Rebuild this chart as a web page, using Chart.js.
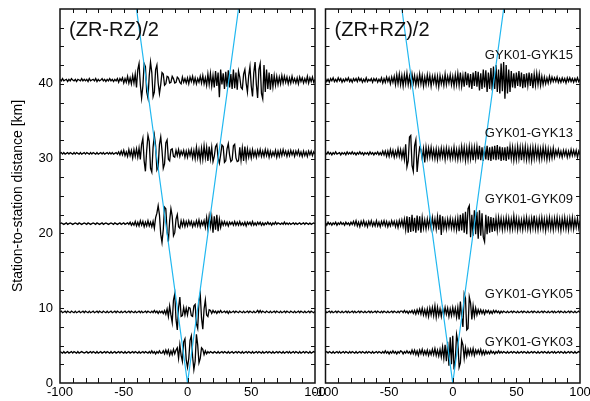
<!DOCTYPE html>
<html>
<head>
<meta charset="utf-8">
<script src="https://cdn.jsdelivr.net/npm/chart.js@4.4.0/dist/chart.umd.min.js"></script>
<style>
  html, body { margin: 0; padding: 0; background: #fff; }
  #wrap { position: relative; width: 590px; height: 401px; }
  #wrap canvas { position: absolute; left: 0; top: 0; }
</style>
</head>
<body>
<div id="wrap">
  <canvas id="leftPanel" width="590" height="401"></canvas>
  <canvas id="rightPanel" width="590" height="401"></canvas>
</div>
<script>
// station pairs, top to bottom, and their separation in km
const stations = ['GYK01-GYK15', 'GYK01-GYK13', 'GYK01-GYK09', 'GYK01-GYK05', 'GYK01-GYK03'];
const distances = [40.5, 30.7, 21.3, 9.5, 4.1];

// lag time axis: -100 s .. 100 s, one sample per second
const lagStart = -100;
const lagStep = 1;
// amplitudes below are in tenths of a km on the distance axis
const ampUnitKm = 0.1;

// move-out lines (blue)
const moveoutLag = [-40, 0, 40];
const moveoutDist = [50, 0, 50];

// ---- (ZR-RZ)/2 ----
const zrMinus15 = [
  1,-1,2,-1,0,1,-2,1,-1,2,0,-1,1,-2,1,0,-1,2,-1,1,
  -1,1,-2,2,-1,0,1,-1,2,-2,1,-1,0,2,-1,1,-2,1,-1,2,
  -1,1,-2,1,-1,2,-3,2,-1,3,-4,2,-3,5,-4,3,-5,6,-4,8,
  -10,14,22,-6,-24,-8,22,18,-16,-24,6,24,10,-22,-16,14,20,-4,-18,-6,
  10,8,-7,-5,5,4,-4,-3,5,2,-4,-3,4,2,-3,-5,4,-3,2,-4,
  3,-5,4,-2,5,-4,3,-5,2,-3,5,-4,6,-5,3,-7,8,-6,9,-8,
  6,-10,12,-8,10,-23,14,-6,9,-12,11,-9,13,-10,8,-12,14,-11,10,-13,
  12,4,-10,-12,8,14,-4,-16,6,18,-8,-22,10,24,-6,-24,14,22,-18,-25,
  20,-16,14,-12,10,-13,8,-9,6,-7,5,-6,4,-5,6,-4,5,-3,4,-5,
  3,-4,5,-3,2,-4,3,-5,4,-2,3,-4,2,-3,5,-4,3,-2,4,-3,1
];
const zrMinus13 = [
  0,1,-1,1,-1,0,1,-1,1,0,-1,1,-1,1,0,-1,1,-1,0,1,
  -1,1,0,-1,1,-1,1,0,-1,1,-1,0,1,-1,1,-1,0,1,-1,1,
  -1,1,-1,0,1,-1,2,-2,3,-2,4,-3,2,-4,5,-3,4,-6,5,-4,
  6,-5,7,-8,12,20,-10,-24,4,24,16,-20,-25,8,24,10,-22,-18,12,22,
  4,-20,-14,14,18,-8,-10,5,6,-4,-5,4,-3,5,-4,3,-2,4,-5,3,
  -5,4,-3,5,-6,4,-7,8,-6,5,-9,7,-8,10,-6,8,-10,9,-7,8,
  -11,-4,9,12,-6,-13,-2,11,9,-12,-10,6,13,-2,-11,-9,10,12,-6,-11,
  -10,8,-9,7,-10,9,-8,6,-5,4,-6,5,-4,3,-5,4,-3,5,-4,3,
  -4,5,-3,4,-5,3,-4,2,-3,4,-5,3,-4,4,-3,5,-2,3,-4,3,
  -3,4,-2,3,-4,3,-2,4,-3,2,-4,3,-3,2,-4,3,-2,3,-3,2,-1
];
const zrMinus09 = [
  0,1,0,-1,0,1,-1,0,1,0,-1,0,1,0,-1,1,0,-1,0,1,
  0,-1,1,0,-1,0,1,0,-1,1,0,-1,0,1,-1,0,1,0,-1,0,
  1,0,-1,1,0,-1,0,1,-1,0,1,-1,0,1,-1,2,-2,1,-2,3,
  -3,2,-3,4,-2,3,-4,2,-3,4,-3,2,-4,3,-6,8,14,24,12,-14,
  -25,-8,22,20,-10,-24,4,20,10,-16,-12,6,12,-4,-6,4,-3,4,-4,3,
  -3,4,-2,3,-4,2,-3,4,-3,5,-4,3,-2,4,-5,8,-6,10,-4,9,
  -12,10,-8,12,-10,6,-5,3,-2,3,-2,2,-3,2,-1,2,-2,3,-2,2,
  -2,3,-2,1,-2,2,-3,2,-1,2,-2,3,-2,1,-2,2,-1,2,-2,1,
  -2,1,-1,2,-1,1,-2,1,-1,2,-1,1,0,-1,1,-1,2,-1,1,-1,
  1,-1,0,1,-1,1,-1,0,1,-1,0,1,-1,1,0,-1,1,-1,0,1,0
];
const zrMinus05 = [
  0,1,-1,0,1,-1,1,0,-1,1,0,-1,1,-1,0,1,-1,0,1,-1,
  1,0,-1,1,-1,0,1,-1,0,1,-1,1,0,-1,1,0,-1,1,-1,0,
  1,-1,0,1,-1,1,0,-1,1,-1,0,1,-1,0,1,-1,1,0,-1,1,
  -1,0,1,-1,1,-1,0,1,-1,1,0,-1,1,-1,2,-1,1,-2,1,-1,
  1,-2,2,-3,4,-6,8,-4,-14,16,24,-10,-24,6,20,-6,-5,6,-4,5,
  -4,6,5,-5,-6,8,10,-16,-22,14,24,-8,-23,4,16,-4,-6,3,2,-2,
  2,-1,1,-2,1,-1,2,-1,0,1,-1,1,-2,1,-1,0,1,-1,1,0,
  -1,1,0,-1,1,-1,0,1,-1,1,0,-1,1,-1,0,2,-1,2,-1,1,
  0,-1,1,0,-1,1,-1,0,1,-1,1,0,-1,1,-1,0,1,-1,1,0,
  -1,1,0,-1,1,-1,0,1,-1,1,0,-1,1,-1,0,1,-1,1,0,-1,1
];
const zrMinus03 = [
  1,0,-1,1,-1,0,1,-1,0,1,-1,1,0,-1,1,-1,0,1,0,-1,
  0,1,-1,0,1,-1,1,0,-1,1,-1,0,1,-1,0,1,-1,1,0,-1,
  1,-1,0,1,-1,0,1,-1,1,0,-1,1,-1,0,1,-1,0,1,-1,1,
  0,-1,1,-1,0,1,-1,1,0,-1,1,-1,2,-1,1,-2,1,-1,2,-1,
  -1,2,-2,3,-2,3,-4,2,-3,4,-2,3,6,-8,10,-4,-12,14,18,-10,
  -20,-8,16,22,-6,-23,-12,24,10,-14,-8,6,4,-3,2,-2,1,-1,1,0,
  -1,1,0,-1,1,-1,0,1,-1,1,0,-1,1,-1,0,1,-1,0,1,-1,
  1,0,-1,1,-1,0,1,-1,1,0,-1,1,-1,0,1,-1,1,0,-1,1,
  -1,0,1,-1,1,0,-1,1,-1,0,1,-1,1,0,-1,1,-1,0,1,-1,
  1,-1,0,1,-1,1,0,-1,1,-1,0,1,-1,1,0,-1,1,-1,0,1,0
];

// ---- (ZR+RZ)/2 ----
const zrPlus15 = [
  2,-2,1,-3,2,-1,3,-2,1,-2,3,-1,2,-3,1,-2,2,-1,3,-2,
  1,-3,2,-1,2,-2,3,-1,2,-3,1,-2,3,-2,1,-1,2,-3,2,-1,
  2,-3,1,-2,3,-4,2,-3,4,-2,3,-5,4,-3,5,-6,7,-5,8,-6,
  6,-8,7,-5,9,-6,5,-7,8,-4,6,-7,5,-6,8,-5,6,-8,4,-6,
  7,-5,6,-8,5,-4,6,-7,5,-9,6,-5,4,-7,8,-6,5,-4,7,-6,
  5,-8,7,-6,9,-7,10,-8,6,-9,11,-7,9,-10,8,-12,10,-8,12,-9,
  11,-14,9,-12,14,-10,13,-16,10,-12,16,-14,18,-12,20,-16,14,-18,22,-15,
  24,-25,20,-18,14,-16,12,-10,9,-11,10,-8,12,-9,10,-11,8,-10,9,-7,
  10,-8,9,-11,8,-7,9,-6,8,-7,5,-6,4,-5,3,-4,5,-3,4,-2,
  3,-2,4,-3,2,-3,3,-2,2,-4,3,-2,3,-2,2,-3,2,-2,3,-2,1
];
const zrPlus13 = [
  1,-1,2,-1,1,-2,1,-1,2,-1,0,1,-2,1,-1,1,-2,2,-1,1,
  -1,2,-1,1,-2,1,-1,2,-1,1,-2,1,-1,1,-2,2,-1,1,-2,1,
  -1,2,-2,1,-2,3,-2,3,-4,3,-4,5,-3,4,-5,3,-4,6,-4,5,
  -6,4,-8,12,-18,-10,22,24,-16,-24,10,18,-25,-6,8,5,-7,6,-12,8,
  -6,7,-5,8,-6,5,-7,6,-8,5,-6,7,-5,6,-8,7,-5,6,-7,5,
  -6,8,-7,5,-8,6,-7,9,-6,8,-9,7,-8,9,-7,8,-9,8,-7,9,
  -8,10,-9,8,-10,9,-8,10,-9,8,-10,9,-8,10,-9,11,-8,9,-10,8,
  -9,8,-10,9,-8,9,-7,8,-9,7,-8,9,-7,8,-9,8,-7,9,-8,7,
  -8,7,-9,8,-7,8,-6,7,-8,6,-7,8,-6,7,-8,6,-7,5,-6,7,
  -5,4,-3,5,-4,3,-5,4,-3,4,-5,3,-4,5,-3,4,-3,4,-5,3,-2
];
const zrPlus09 = [
  1,-2,2,-1,1,-2,1,-1,2,-2,1,-1,2,-1,1,-2,2,-1,1,-2,
  2,-1,3,-2,4,-3,2,-4,3,-2,4,-3,2,-4,3,-2,4,-3,2,-3,
  4,-3,2,-4,3,-2,4,-3,3,-4,2,-3,4,-2,3,-4,3,-5,4,-3,
  5,-4,6,-8,10,-12,9,-11,12,-10,8,-12,11,-9,10,-12,8,-6,5,-7,
  6,-5,7,-6,8,-5,6,-7,9,-8,12,-15,10,-6,5,-7,6,-5,7,-6,
  5,-7,6,-8,7,-10,12,-9,14,-12,16,-14,20,24,-18,12,-16,18,-14,16,
  -20,18,-16,14,-18,-24,12,-14,10,-12,9,-11,8,-10,7,-9,8,-6,7,-8,
  6,-7,8,-6,7,-8,6,-7,10,-6,7,-8,6,-7,5,-8,7,-6,8,-7,
  6,-8,7,-6,11,-7,6,-8,7,-6,8,-7,6,-9,7,-6,8,-7,6,-8,
  7,-6,8,-7,6,-9,7,-6,8,-7,6,-8,7,-6,8,-7,6,-5,7,-6,4
];
const zrPlus05 = [
  1,-1,0,1,-1,1,-1,0,1,-1,1,0,-1,1,-1,0,1,-1,1,-1,
  0,1,-1,1,-1,0,1,-1,1,0,-1,1,-1,0,1,-1,1,-1,0,1,
  -1,1,0,-1,1,-1,1,0,-1,1,-1,0,1,-1,1,0,-1,1,-1,1,
  1,-1,2,-1,1,-2,1,-1,2,-2,2,-3,3,-2,4,-3,5,-4,3,-5,
  4,-6,5,-4,6,-5,8,-7,6,-5,4,-6,5,-4,6,-3,5,-6,4,-5,
  6,-4,5,-7,6,-10,14,-8,-20,24,18,-24,-22,20,12,-10,8,-6,5,-4,
  3,-2,3,-2,2,-3,2,-1,2,-2,1,-2,2,-1,2,-1,1,-2,1,-1,
  1,0,-1,1,-1,0,1,-1,1,0,-1,1,-1,0,1,-1,1,0,-1,1,
  -1,0,1,-1,1,0,-1,1,-1,0,1,-1,1,0,-1,1,-1,0,1,-1,
  1,-1,0,1,-1,1,0,-1,1,-1,0,1,-1,1,0,-1,1,-1,0,1,-1
];
const zrPlus03 = [
  0,1,-1,1,0,-1,1,-1,0,1,-1,1,-1,0,1,-1,1,0,-1,1,
  -1,1,0,-1,1,-1,0,1,-1,1,0,-1,1,-1,1,0,-1,1,-1,0,
  1,-1,1,0,-1,1,-1,2,-1,1,-2,1,-1,2,-1,1,-2,1,-1,2,
  1,-2,1,-1,2,-1,1,-2,3,-2,3,-3,2,-4,3,-2,4,-3,2,-3,
  3,-4,2,-3,4,-3,5,-4,3,-5,4,-6,7,-8,10,-12,14,-18,20,-16,
  22,-23,-10,24,14,-20,-14,16,10,-8,6,-5,4,-3,4,-3,5,-4,3,-2,
  3,-2,4,-3,2,-3,2,-2,1,-2,2,-1,1,-2,1,-1,2,-1,1,-1,
  1,0,-1,1,-1,0,1,-1,1,0,-1,1,-1,0,1,-1,1,0,-1,1,
  -1,0,1,-1,1,0,-1,1,-1,0,1,-1,1,0,-1,1,-1,0,1,-1,
  1,-1,0,1,-1,1,0,-1,1,-1,0,1,-1,1,0,-1,1,-1,0,1,0
];

const minusTraces = [zrMinus15, zrMinus13, zrMinus09, zrMinus05, zrMinus03];
const plusTraces = [zrPlus15, zrPlus13, zrPlus09, zrPlus05, zrPlus03];

minusTraces.concat(plusTraces).forEach((a, k) => {
  if (a.length !== 201) throw new Error('trace ' + k + ' has ' + a.length + ' samples');
});

const fontFamily = '"Liberation Sans", Arial, Helvetica, sans-serif';
Chart.defaults.font.family = fontFamily;
Chart.defaults.color = '#000';

// frame with inward ticks on all four sides, panel title, station labels
const panelFrame = {
  id: 'panelFrame',
  afterDraw(chart, args, opts) {
    const {ctx, chartArea: a} = chart;
    const x = chart.scales.x, y = chart.scales.y;
    ctx.save();
    ctx.strokeStyle = '#111';
    ctx.lineWidth = 1.5;
    ctx.strokeRect(a.left, a.top, a.right - a.left, a.bottom - a.top);

    ctx.lineWidth = 1;
    ctx.beginPath();
    for (let v = x.min + opts.xStep; v < x.max; v += opts.xStep) {
      const px = Math.round(x.getPixelForValue(v)) + 0.5;
      ctx.moveTo(px, a.bottom); ctx.lineTo(px, a.bottom - 5);
      ctx.moveTo(px, a.top); ctx.lineTo(px, a.top + 4);
    }
    for (let v = y.min + opts.yStep; v < y.max; v += opts.yStep) {
      const py = Math.round(y.getPixelForValue(v)) + 0.5;
      ctx.moveTo(a.left, py); ctx.lineTo(a.left + 4, py);
      ctx.moveTo(a.right, py); ctx.lineTo(a.right - 4, py);
    }
    ctx.stroke();

    ctx.fillStyle = '#111';
    ctx.textBaseline = 'middle';
    ctx.textAlign = 'left';
    ctx.font = '20px ' + fontFamily;
    ctx.fillText(opts.title, a.left + 9, a.top + 21);

    if (opts.labels) {
      ctx.font = '13px ' + fontFamily;
      ctx.textAlign = 'right';
      opts.labels.forEach((s, k) => {
        ctx.fillText(s, x.getPixelForValue(opts.labelLag), y.getPixelForValue(distances[k] + opts.labelLift[k]));
      });
    }
    ctx.restore();
  }
};

function traceDatasets(traces) {
  const sets = [{
    data: moveoutLag.map((t, i) => ({x: t, y: moveoutDist[i]})),
    borderColor: '#22b8f0',
    borderWidth: 1.2,
    pointRadius: 0,
    order: 0
  }];
  traces.forEach((amps, k) => {
    sets.push({
      data: amps.map((v, i) => ({x: lagStart + i * lagStep, y: distances[k] + v * ampUnitKm})),
      borderColor: '#000',
      borderWidth: 1.3,
      pointRadius: 0,
      order: 1
    });
  });
  return sets;
}

function makePanel(id, traces, title, showY, padding, labels) {
  return new Chart(document.getElementById(id), {
    type: 'line',
    data: {datasets: traceDatasets(traces)},
    options: {
      responsive: false,
      animation: false,
      events: [],
      layout: {padding: padding},
      plugins: {
        legend: {display: false},
        tooltip: {enabled: false},
        panelFrame: {
          title: title, xStep: 10, yStep: 2.5,
          labels: labels, labelLag: 94.5,
          labelLift: [3.35, 2.6, 3.25, 2.3, 1.3]
        }
      },
      scales: {
        x: {
          type: 'linear', min: -100, max: 100,
          grid: {display: false, drawTicks: false}, border: {display: false},
          ticks: {
            stepSize: 10, autoSkip: false, maxRotation: 0, padding: 2,
            font: {size: 13},
            callback: v => (v % 50 === 0 ? v : '')
          },
          afterFit: s => { s.height = 18; s.paddingLeft = 0; s.paddingRight = 0; }
        },
        y: {
          type: 'linear', min: 0, max: 50, display: showY,
          grid: {display: false, drawTicks: false}, border: {display: false},
          ticks: {
            stepSize: 2.5, autoSkip: false, padding: 7,
            font: {size: 13},
            callback: v => (v % 10 === 0 && v < 50 ? v : '')
          },
          title: {
            display: true, text: 'Station-to-station distance [km]',
            font: {size: 14}, padding: {top: 10, bottom: 0}
          },
          afterFit: s => { s.width = showY ? 60 : 0; s.paddingTop = 0; s.paddingBottom = 0; }
        }
      }
    },
    plugins: [panelFrame]
  });
}

makePanel('leftPanel', minusTraces, '(ZR-RZ)/2', true, {top: 9, right: 275, bottom: 0, left: 0}, null);
makePanel('rightPanel', plusTraces, '(ZR+RZ)/2', false, {top: 9, right: 10, bottom: 0, left: 325.5}, stations);
</script>
</body>
</html>
